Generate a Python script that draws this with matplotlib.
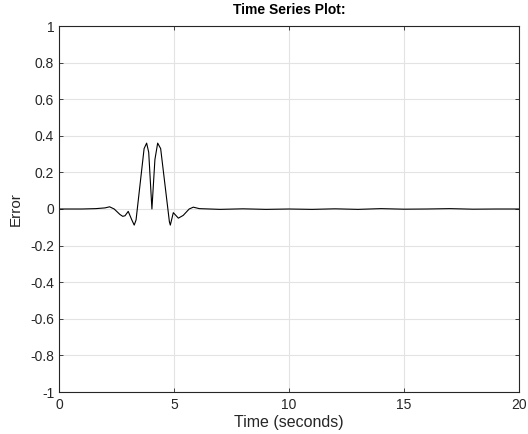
import matplotlib
matplotlib.use('Agg')
import matplotlib.pyplot as plt

# Error signal
time_s = [0, 1.0, 1.6, 2.0, 2.2, 2.4, 2.65, 2.77, 2.87, 3.01, 3.16, 3.27, 3.35,
          3.7, 3.81, 3.9, 4.04, 4.17, 4.29, 4.42, 4.8, 4.84, 4.97, 5.19, 5.4,
          5.66, 5.84, 6.1, 7.0, 8.0, 9.0, 10.0, 11.0, 12.0, 13.0, 14.0, 15.0,
          16.0, 17.0, 18.0, 19.0, 20.0]
error = [0, 0, 0.002, 0.006, 0.012, 0.0, -0.03, -0.04, -0.037, -0.013, -0.058, -0.088, -0.06,
         0.33, 0.36, 0.31, 0.0, 0.27, 0.36, 0.33, -0.07, -0.088, -0.02, -0.05, -0.035,
         0.0, 0.01, 0.002, -0.002, 0.001, -0.002, 0.0, -0.002, 0.001, -0.002, 0.002, -0.001,
         0.0, 0.002, -0.001, 0.0, 0.0]

x_ticks = [0, 5, 10, 15, 20]
y_ticks = [-1, -0.8, -0.6, -0.4, -0.2, 0, 0.2, 0.4, 0.6, 0.8, 1]
y_labels = ['-1', '-0.8', '-0.6', '-0.4', '-0.2', '0', '0.2', '0.4', '0.6', '0.8', '1']

plt.rcParams['font.family'] = ['Liberation Sans', 'DejaVu Sans']

fig = plt.figure(figsize=(5.28, 4.34), dpi=100)
ax = fig.add_axes([59 / 528, 42 / 434, 460 / 528, 366 / 434])

ax.plot(time_s, error, color='black', linewidth=0.8)

ax.set_xlim(0, 20)
ax.set_ylim(-1, 1)
ax.set_xticks(x_ticks)
ax.set_xticklabels([str(t) for t in x_ticks])
ax.set_yticks(y_ticks)
ax.set_yticklabels(y_labels)

# light grid, MATLAB-like box with inward ticks
ax.grid(True, color='#e3e3e3', linewidth=0.8)
ax.set_axisbelow(True)
ax.tick_params(direction='in', length=3, width=0.6, top=True, right=True,
               labelsize=10, colors='#262626')
ax.tick_params(axis='x', pad=4.5)
for s in ax.spines.values():
    s.set_linewidth(0.8)
    s.set_color('#262626')

ax.set_xlabel('Time (seconds)', fontsize=11.5, color='#262626', labelpad=2)
ax.set_ylabel('Error', fontsize=11, color='#262626', labelpad=5)
ax.set_title('Time Series Plot:', fontsize=10, fontweight='bold', pad=9)

fig.savefig('out.png', dpi=100)
